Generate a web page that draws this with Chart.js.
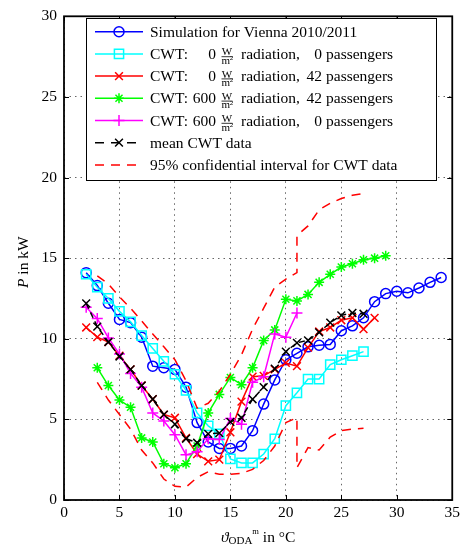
<!DOCTYPE html>
<html>
<head>
<meta charset="utf-8">
<script src="https://cdn.jsdelivr.net/npm/chart.js@4.4.1/dist/chart.umd.min.js"></script>
<style>
  html, body { margin: 0; padding: 0; background: #fff; }
  #wrap { position: relative; width: 464px; height: 548px; }
</style>
</head>
<body>
<div id="wrap"><canvas id="powerChart"></canvas></div>
<script>
// outside temperature (°C) and heating/cooling power (kW)
const simTemp = [2,3,4,5,6,7,8,9,10,11,12,13,14,15,16,17,18,19,20,21,22,23,24,25,26,27,28,29,30,31,32,33,34];
const simPower = [14.1,13.3,12.2,11.2,11.0,10.1,8.3,8.2,8.1,7.0,4.8,3.6,3.2,3.2,3.35,4.3,5.95,7.45,8.7,9.1,9.5,9.6,9.65,10.5,10.8,11.3,12.3,12.8,12.95,12.85,13.15,13.5,13.8];

const cwt00Temp = [2,3,4,5,6,7,8,9,10,11,12,13,14,15,16,17,18,19,20,21,22,23,24,25,26,27];
const cwt00Power = [14.0,13.2,12.5,11.7,11.05,10.2,9.4,8.6,7.8,6.8,5.4,4.6,4.1,2.55,2.3,2.3,2.85,3.8,5.85,6.65,7.5,7.5,8.4,8.7,8.95,9.2];

const cwt042Temp = [2,3,4,5,6,7,8,9,10,11,12,13,14,15,16,17,18,19,20,21,22,23,24,25,26,27,28];
const cwt042Power = [10.7,10.1,9.8,8.95,8.1,7.1,6.25,5.3,5.1,3.85,2.85,2.4,2.5,4.2,6.1,7.65,7.7,8.1,8.5,8.3,9.45,10.45,10.7,11.15,11.3,10.6,11.3];

const cwt60042Temp = [3,4,5,6,7,8,9,10,11,12,13,14,15,16,17,18,19,20,21,22,23,24,25,26,27,28,29];
const cwt60042Power = [8.2,7.1,6.2,5.75,3.85,3.6,2.25,2.0,2.25,3.35,5.4,6.55,7.6,7.15,8.2,9.9,10.55,12.45,12.35,12.75,13.5,14.0,14.45,14.65,14.9,15.0,15.15];

const cwt6000Temp = [2,3,4,5,6,7,8,9,10,11,12,13,14,15,16,17,18,19,20,21];
const cwt6000Power = [11.95,11.25,10.05,9.05,7.85,7.0,5.4,4.9,4.05,2.8,3.0,3.8,3.75,5.05,4.7,7.3,7.65,10.3,10.1,11.6];

const meanTemp = [2,3,4,5,6,7,8,9,10,11,12,13,14,15,16,17,18,19,20,21,22,23,24,25,26,27];
const meanPower = [12.2,10.75,9.8,8.9,8.1,7.1,6.25,5.3,4.7,3.8,3.55,4.1,4.15,4.85,5.1,6.25,7.0,8.15,9.2,9.75,9.9,10.4,11.0,11.45,11.6,11.55];

const ciUpperTemp = [3,4,5,6,7,8,9,10,11,12,13,14,15,16,17,18,19,20,21,21,22,23,24,25,26,27];
const ciUpperPower = [13.9,13.4,12.6,11.9,11.1,10.3,9.5,8.7,7.4,5.7,6.0,6.75,7.8,9.0,10.6,11.9,13.2,13.7,14.1,16.4,17.0,18.0,18.4,18.7,18.9,19.0];
const ciLowerTemp = [3,4,5,6,7,8,9,10,11,12,13,14,15,16,17,18,19,20,21,21,22,23,24,25,26,27];
const ciLowerPower = [7.3,6.2,5.3,4.4,3.1,2.3,1.3,0.85,0.8,1.4,1.75,1.6,1.6,1.65,1.9,2.45,3.35,4.8,5.1,2.0,3.25,3.1,3.9,4.3,4.4,4.45];

const xTicks = [0,5,10,15,20,25,30,35];
const yTicks = [0,5,10,15,20,25,30];

const SERIF = "'Liberation Serif', 'DejaVu Serif', serif";

function pts(xs, ys) {
  return xs.map((v, i) => ({ x: v, y: ys[i] }));
}

function series(label, xs, ys, color, style, radius, order, dash) {
  return {
    label: label,
    data: pts(xs, ys),
    borderColor: color,
    backgroundColor: color,
    borderWidth: 1.5,
    borderDash: dash || [],
    pointStyle: style,
    pointRadius: radius,
    pointBorderWidth: 1.5,
    pointBorderColor: color,
    pointBackgroundColor: 'rgba(0,0,0,0)',
    tension: 0,
    order: order
  };
}

const datasets = [
  series('Simulation for Vienna 2010/2011', simTemp, simPower, '#0000ff', 'circle', 5, 8),
  series('CWT 0 W/m2, 0 passengers', cwt00Temp, cwt00Power, '#00ffff', 'rect', 6.5, 7),
  series('CWT 0 W/m2, 42 passengers', cwt042Temp, cwt042Power, '#ff0000', 'crossRot', 5.5, 6),
  series('CWT 600 W/m2, 42 passengers', cwt60042Temp, cwt60042Power, '#00ff00', 'star', 5, 5),
  series('CWT 600 W/m2, 0 passengers', cwt6000Temp, cwt6000Power, '#ff00ff', 'cross', 5.5, 4),
  series('mean CWT data', meanTemp, meanPower, '#000000', 'crossRot', 5.5, 3, [6, 4]),
  series('95% upper', ciUpperTemp, ciUpperPower, '#ff0000', 'circle', 0, 2, [9, 7]),
  series('95% lower', ciLowerTemp, ciLowerPower, '#ff0000', 'circle', 0, 1, [9, 7])
];

function drawMarker(ctx, style, x, y, r) {
  ctx.beginPath();
  if (style === 'circle') {
    ctx.arc(x, y, r, 0, Math.PI * 2);
  } else if (style === 'rect') {
    const s = r * Math.SQRT1_2;
    ctx.rect(x - s, y - s, 2 * s, 2 * s);
  } else {
    const d = r * Math.SQRT1_2;
    if (style === 'cross' || style === 'star') {
      ctx.moveTo(x - r, y); ctx.lineTo(x + r, y);
      ctx.moveTo(x, y - r); ctx.lineTo(x, y + r);
    }
    if (style === 'crossRot' || style === 'star') {
      ctx.moveTo(x - d, y - d); ctx.lineTo(x + d, y + d);
      ctx.moveTo(x + d, y - d); ctx.lineTo(x - d, y + d);
    }
  }
  ctx.stroke();
}

const legendRows = [
  { color: '#0000ff', marker: 'circle', r: 5, dash: [] },
  { color: '#00ffff', marker: 'rect', r: 6.5, dash: [], num: '0', pass: '0' },
  { color: '#ff0000', marker: 'crossRot', r: 5.5, dash: [], num: '0', pass: '42' },
  { color: '#00ff00', marker: 'star', r: 5, dash: [], num: '600', pass: '42' },
  { color: '#ff00ff', marker: 'cross', r: 5.5, dash: [], num: '600', pass: '0' },
  { color: '#000000', marker: 'crossRot', r: 5.5, dash: [9, 7], text: 'mean CWT data' },
  { color: '#ff0000', marker: null, dash: [9, 7], text: '95% confidential interval for CWT data' }
];

const decorations = {
  id: 'decorations',
  afterDraw(chart) {
    const { ctx, chartArea: a, scales: { x, y } } = chart;
    ctx.save();

    // inward ticks on all four sides
    ctx.strokeStyle = '#000';
    ctx.lineWidth = 1;
    ctx.beginPath();
    xTicks.forEach(v => {
      const px = Math.round(x.getPixelForValue(v)) + 0.5;
      ctx.moveTo(px, a.bottom); ctx.lineTo(px, a.bottom - 5);
      ctx.moveTo(px, a.top); ctx.lineTo(px, a.top + 5);
    });
    yTicks.forEach(v => {
      const py = Math.round(y.getPixelForValue(v)) + 0.5;
      ctx.moveTo(a.left, py); ctx.lineTo(a.left + 5, py);
      ctx.moveTo(a.right, py); ctx.lineTo(a.right - 5, py);
    });
    ctx.stroke();

    // frame
    ctx.lineWidth = 1.8;
    ctx.strokeRect(a.left, a.top, a.right - a.left, a.bottom - a.top);

    // legend
    const L = 86, T = 18, R = 436, B = 180;
    ctx.fillStyle = '#fff';
    ctx.fillRect(L, T, R - L, B - T);
    ctx.lineWidth = 1;
    ctx.strokeStyle = '#000';
    ctx.strokeRect(L + 0.5, T + 0.5, R - L, B - T);

    const big = '15.5px ' + SERIF;
    legendRows.forEach((row, i) => {
      const cy = T + 13.7 + i * 22.2;
      ctx.strokeStyle = row.color;
      ctx.lineWidth = 1.5;
      ctx.setLineDash(row.dash);
      ctx.beginPath();
      ctx.moveTo(L + 9, cy); ctx.lineTo(L + 57, cy);
      ctx.stroke();
      ctx.setLineDash([]);
      if (row.marker) drawMarker(ctx, row.marker, L + 33, cy, row.r);

      ctx.fillStyle = '#000';
      ctx.textBaseline = 'alphabetic';
      ctx.font = big;
      const base = cy + 5;
      if (i === 0) {
        ctx.textAlign = 'left';
        ctx.fillText('Simulation for Vienna 2010/2011', 150, base);
      } else if (row.text) {
        ctx.textAlign = 'left';
        ctx.fillText(row.text, 150, base);
      } else {
        ctx.textAlign = 'left';
        ctx.fillText('CWT:', 150, base);
        ctx.textAlign = 'right';
        ctx.fillText(row.num, 216, base);
        // W / m² fraction
        const fx = 227;
        ctx.textAlign = 'center';
        ctx.font = '11px ' + SERIF;
        ctx.fillText('W', fx, cy + 1.5);
        ctx.strokeStyle = '#000';
        ctx.lineWidth = 0.8;
        ctx.beginPath();
        ctx.moveTo(fx - 5.5, cy + 2.8); ctx.lineTo(fx + 5.5, cy + 2.8);
        ctx.stroke();
        ctx.textAlign = 'left';
        ctx.fillText('m', fx - 5.5, cy + 10);
        ctx.font = '7px ' + SERIF;
        ctx.fillText('2', fx + 2.8, cy + 6.3);
        ctx.font = big;
        ctx.fillText('radiation,', 241, base);
        ctx.textAlign = 'right';
        ctx.fillText(row.pass, 322, base);
        ctx.textAlign = 'left';
        ctx.fillText('passengers', 326, base);
      }
    });

    // x axis title: ϑ_ODA^m in °C
    ctx.fillStyle = '#000';
    ctx.textAlign = 'left';
    ctx.textBaseline = 'alphabetic';
    const parts = [
      { t: '\u03D1', f: 'italic 15.5px ' + SERIF, dy: 0 },
      { t: 'ODA', f: '11px ' + SERIF, dy: 2.5 },
      { t: 'm', f: '8.5px ' + SERIF, dy: -8 },
      { t: ' in \u00B0C', f: '15.5px ' + SERIF, dy: 0 }
    ];
    let total = 0;
    parts.forEach(p => { ctx.font = p.f; p.w = ctx.measureText(p.t).width; total += p.w; });
    let cx = (a.left + a.right) / 2 - total / 2;
    parts.forEach(p => { ctx.font = p.f; ctx.fillText(p.t, cx, 541.5 + p.dy); cx += p.w; });

    // y axis title: P in kW
    ctx.translate(28, (a.top + a.bottom) / 2 + 4);
    ctx.rotate(-Math.PI / 2);
    ctx.font = 'italic 15.5px ' + SERIF;
    const wP = ctx.measureText('P').width;
    ctx.font = '15.5px ' + SERIF;
    const wRest = ctx.measureText(' in kW').width;
    let sx = -(wP + wRest) / 2;
    ctx.font = 'italic 15.5px ' + SERIF;
    ctx.fillText('P', sx, 0);
    ctx.font = '15.5px ' + SERIF;
    ctx.fillText(' in kW', sx + wP, 0);

    ctx.restore();
  }
};

const ctx = document.getElementById('powerChart').getContext('2d');
new Chart(ctx, {
  type: 'line',
  data: { datasets: datasets },
  options: {
    responsive: true,
    maintainAspectRatio: false,
    animation: false,
    layout: { padding: { top: 8, right: 8, left: 0, bottom: 0 } },
    plugins: {
      legend: { display: false },
      tooltip: { enabled: false }
    },
    scales: {
      x: {
        type: 'linear',
        min: 0,
        max: 35,
        afterBuildTicks(s) { s.ticks = xTicks.map(v => ({ value: v })); },
        afterFit(s) { s.height = 48; },
        ticks: { color: '#000', padding: 4, maxRotation: 0, font: { family: SERIF, size: 15.5 } },
        grid: { color: '#666', lineWidth: 1, drawTicks: false },
        border: { display: false, dash: [1.5, 4] }
      },
      y: {
        type: 'linear',
        min: 0,
        max: 30,
        afterBuildTicks(s) { s.ticks = yTicks.map(v => ({ value: v })); },
        afterFit(s) { s.width = 64; },
        ticks: { color: '#000', padding: 7, font: { family: SERIF, size: 15.5 } },
        grid: { color: '#666', lineWidth: 1, drawTicks: false },
        border: { display: false, dash: [1.5, 4] }
      }
    }
  },
  plugins: [decorations]
});
</script>
</body>
</html>
